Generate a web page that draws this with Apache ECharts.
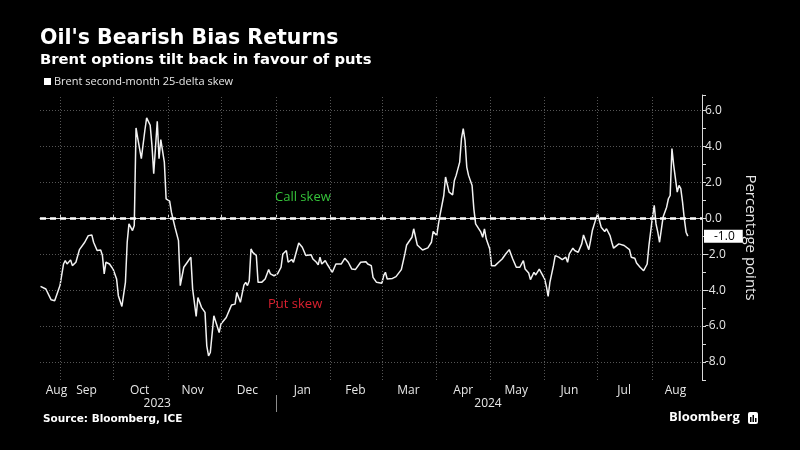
<!DOCTYPE html>
<html>
<head>
<meta charset="utf-8">
<script src="https://cdn.jsdelivr.net/npm/echarts@6/dist/echarts.min.js"></script>
<style>
    html, body { margin: 0; background: #000; }
    #chart { width: 800px; height: 450px; }
</style>
</head>
<body>
<div id="chart"></div>
<script>
// Brent second-month 25-delta skew, percentage points
const dates = [
    "2023-08-21", "2023-08-22", "2023-08-24", "2023-08-25", "2023-08-27", "2023-08-29", "2023-08-30",
    "2023-09-01", "2023-09-03", "2023-09-04", "2023-09-05", "2023-09-07", "2023-09-08", "2023-09-10",
    "2023-09-12", "2023-09-13", "2023-09-15", "2023-09-17", "2023-09-19", "2023-09-20", "2023-09-22",
    "2023-09-24", "2023-09-25", "2023-09-26", "2023-09-27", "2023-09-29",
    "2023-10-01", "2023-10-03", "2023-10-04", "2023-10-06", "2023-10-07", "2023-10-08", "2023-10-09",
    "2023-10-10", "2023-10-12", "2023-10-13", "2023-10-14", "2023-10-15", "2023-10-17", "2023-10-19",
    "2023-10-20", "2023-10-22", "2023-10-23", "2023-10-24", "2023-10-26", "2023-10-27", "2023-10-28",
    "2023-10-30", "2023-10-31",
    "2023-11-01", "2023-11-02", "2023-11-03", "2023-11-05", "2023-11-07", "2023-11-08", "2023-11-10",
    "2023-11-12", "2023-11-14", "2023-11-15", "2023-11-17", "2023-11-18", "2023-11-20", "2023-11-22",
    "2023-11-23", "2023-11-24", "2023-11-25", "2023-11-27", "2023-11-28", "2023-11-30",
    "2023-12-01", "2023-12-02", "2023-12-04", "2023-12-06", "2023-12-07", "2023-12-09", "2023-12-10",
    "2023-12-11", "2023-12-12", "2023-12-14", "2023-12-15", "2023-12-16", "2023-12-17", "2023-12-18",
    "2023-12-19", "2023-12-21", "2023-12-22", "2023-12-24", "2023-12-26", "2023-12-28", "2023-12-29",
    "2023-12-31",
    "2024-01-02", "2024-01-04", "2024-01-05", "2024-01-07", "2024-01-08", "2024-01-10", "2024-01-11",
    "2024-01-12", "2024-01-14", "2024-01-16", "2024-01-18", "2024-01-19", "2024-01-21", "2024-01-22",
    "2024-01-24", "2024-01-25", "2024-01-26", "2024-01-27", "2024-01-29", "2024-01-30", "2024-01-31",
    "2024-02-02", "2024-02-04", "2024-02-05", "2024-02-07", "2024-02-09", "2024-02-11", "2024-02-13",
    "2024-02-15", "2024-02-16", "2024-02-18", "2024-02-19", "2024-02-21", "2024-02-22", "2024-02-24",
    "2024-02-25", "2024-02-27", "2024-02-28",
    "2024-03-01", "2024-03-02", "2024-03-03", "2024-03-04", "2024-03-05", "2024-03-07", "2024-03-09",
    "2024-03-10", "2024-03-12", "2024-03-13", "2024-03-14", "2024-03-15", "2024-03-16", "2024-03-18",
    "2024-03-19", "2024-03-21", "2024-03-22", "2024-03-24", "2024-03-25", "2024-03-27", "2024-03-29",
    "2024-03-30",
    "2024-04-01", "2024-04-02", "2024-04-03", "2024-04-05", "2024-04-06", "2024-04-08", "2024-04-10",
    "2024-04-11", "2024-04-12", "2024-04-14", "2024-04-15", "2024-04-16", "2024-04-17", "2024-04-18",
    "2024-04-19", "2024-04-21", "2024-04-22", "2024-04-23", "2024-04-24", "2024-04-26", "2024-04-27",
    "2024-04-28", "2024-04-29",
    "2024-05-01", "2024-05-02", "2024-05-04", "2024-05-06", "2024-05-08", "2024-05-10", "2024-05-12",
    "2024-05-13", "2024-05-14", "2024-05-16", "2024-05-18", "2024-05-20", "2024-05-21", "2024-05-23",
    "2024-05-24", "2024-05-26", "2024-05-27", "2024-05-29", "2024-05-30",
    "2024-06-01", "2024-06-02", "2024-06-03", "2024-06-04", "2024-06-06", "2024-06-07", "2024-06-09",
    "2024-06-10", "2024-06-11", "2024-06-13", "2024-06-14", "2024-06-15", "2024-06-17", "2024-06-18",
    "2024-06-20", "2024-06-22", "2024-06-23", "2024-06-24", "2024-06-26", "2024-06-27", "2024-06-28",
    "2024-06-30",
    "2024-07-01", "2024-07-02", "2024-07-03", "2024-07-05", "2024-07-06", "2024-07-08", "2024-07-09",
    "2024-07-10", "2024-07-11", "2024-07-13", "2024-07-14", "2024-07-16", "2024-07-17", "2024-07-19",
    "2024-07-20", "2024-07-22", "2024-07-23", "2024-07-25", "2024-07-27", "2024-07-28", "2024-07-29",
    "2024-07-30",
    "2024-08-01", "2024-08-02", "2024-08-03", "2024-08-04", "2024-08-05", "2024-08-07", "2024-08-08",
    "2024-08-09", "2024-08-10", "2024-08-11", "2024-08-12", "2024-08-13", "2024-08-15", "2024-08-16",
    "2024-08-17", "2024-08-18", "2024-08-19", "2024-08-20", "2024-08-21"
];

const skew = [
    -3.79, -3.75, -3.94, -3.98, -4.54, -4.59, -4.50,
    -3.75, -2.55, -2.36, -2.55, -2.32, -2.64, -2.45,
    -1.75, -1.80, -1.34, -0.97, -0.93, -1.34, -1.80,
    -1.77, -2.08, -3.10, -2.45, -2.55,
    -2.83, -3.38, -4.31, -4.91, -4.87, -3.57, -1.34,
    -0.32, -0.69, -0.41, 5.02, 4.42, 3.31, 4.89,
    5.58, 5.17, 4.05, 2.47, 5.39, 3.31, 4.37,
    3.12, 1.08,
    1.04, 0.95, 0.33, -0.50, -1.25, -3.75, -2.73,
    -2.45, -2.17, -3.94, -5.46, -4.41, -4.96, -5.24,
    -7.10, -7.66, -7.47, -5.43, -5.52, -6.36,
    -5.89, -5.99, -5.52, -5.06, -4.83, -4.78, -4.13,
    -4.03, -4.68, -3.72, -3.57, -3.75, -3.48, -1.71,
    -1.90, -2.08, -3.57, -3.57, -3.38, -2.86, -3.10,
    -3.20,
    -3.10, -2.73, -1.99, -1.80, -2.45, -2.30, -2.45,
    -2.40, -1.38, -1.62, -2.08, -2.12, -2.04, -2.27,
    -2.45, -2.60, -2.17, -2.55, -2.36, -2.55, -2.45,
    -3.01, -2.55, -2.49, -2.55, -2.23, -2.45, -2.83,
    -2.86, -2.92, -2.45, -2.55, -2.42, -2.55, -2.64,
    -3.29, -3.57, -3.53,
    -3.62, -3.20, -3.01, -3.38, -3.48, -3.35, -3.25,
    -3.25, -2.86, -2.83, -1.99, -1.49, -1.52, -1.06,
    -0.59, -1.49, -1.52, -1.77, -1.75, -1.65, -1.34,
    -0.74,
    -0.97, -0.32, 0.24, 1.26, 2.29, 1.45, 1.30,
    2.10, 2.38, 3.12, 4.42, 4.98, 4.33, 2.84,
    2.38, 1.82, 0.52, -0.32, -0.37, -0.78, -1.06,
    -0.59, -1.15,
    -1.71, -2.64, -2.64, -2.45, -2.27, -1.99, -1.75,
    -1.75, -2.27, -2.73, -2.73, -2.36, -2.83, -3.05,
    -3.42, -3.01, -3.16, -2.83, -3.01,
    -3.38, -3.79, -4.35, -3.57, -2.64, -2.08, -2.17,
    -2.08, -2.30, -2.17, -2.45, -1.99, -1.67, -1.80,
    -1.90, -1.43, -0.93, -0.97, -1.75, -1.25, -0.69,
    -0.04,
    0.24, -0.13, -0.50, -0.74, -0.59, -0.97, -1.34,
    -1.67, -1.64, -1.43, -1.43, -1.52, -1.62, -1.75,
    -2.17, -2.23, -2.49, -2.73, -2.92, -3.01, -2.55,
    -1.52,
    0.06, 0.71, -0.32, -0.78, -1.34, 0.06, 0.15,
    0.61, 1.08, 1.26, 3.87, 2.94, 1.45, 1.82,
    1.64, 0.89, -0.04, -0.78, -1.00
];

// x-axis tick marks / labels
const monthStarts = ["2023-09-01", "2023-10-01", "2023-11-01", "2023-12-01", "2024-01-01", "2024-02-01",
    "2024-03-01", "2024-04-01", "2024-05-01", "2024-06-01", "2024-07-01", "2024-08-01"];
const monthLabelDates = ["2023-08-30", "2023-09-16", "2023-10-16", "2023-11-15", "2023-12-16", "2024-01-16",
    "2024-02-15", "2024-03-16", "2024-04-16", "2024-05-16", "2024-06-15", "2024-07-16", "2024-08-14"];
const monthNames = ["Aug", "Sep", "Oct", "Nov", "Dec", "Jan", "Feb", "Mar", "Apr", "May", "Jun", "Jul", "Aug"];
const yearLabelDates = ["2023-10-26", "2024-04-30"];
const yearNames = ["2023", "2024"];
const yearBreaks = ["2024-01-01"];

const seriesName = "Brent second-month 25-delta skew";

// local-midnight timestamp, x axis is a plain value axis of timestamps
function ts(s) {
    const [y, m, d] = s.split("-").map(Number);
    return new Date(y, m - 1, d).getTime();
}

const monthLookup = {};
monthLabelDates.forEach((d, i) => { monthLookup[ts(d)] = monthNames[i]; });
const yearLookup = {};
yearLabelDates.forEach((d, i) => { yearLookup[ts(d)] = yearNames[i]; });

const xMin = ts("2023-08-20") + 0.7 * 86400000;
const xMax = ts("2024-08-29");
const lastValue = skew[skew.length - 1];
const font = "Open Sans";
const headFont = "DejaVu Sans";
const gridColor = "#555";

const chart = echarts.init(document.getElementById("chart"));

chart.setOption({
    backgroundColor: "#000",
    animation: false,
    textStyle: { fontFamily: font },
    title: [
        {
            text: "Oil's Bearish Bias Returns",
            left: 40, top: 28, padding: 0,
            textStyle: { color: "#fff", fontSize: 20.5, fontWeight: "bold", fontFamily: headFont }
        },
        {
            text: "Brent options tilt back in favour of puts",
            left: 40, top: 53, padding: 0,
            textStyle: { color: "#fff", fontSize: 14.8, fontWeight: "bold", fontFamily: headFont }
        },
        {
            text: "Source: Bloomberg, ICE",
            left: 43, top: 414, padding: 0,
            textStyle: { color: "#fff", fontSize: 10.5, fontWeight: "bold", fontFamily: headFont }
        },
        {
            text: "Bloomberg",
            left: 669, top: 411, padding: 0,
            textStyle: { color: "#fff", fontSize: 13, fontWeight: "bold", fontFamily: font }
        }
    ],
    legend: {
        data: [seriesName],
        left: 44, top: 76, padding: 0,
        icon: "rect", itemWidth: 7, itemHeight: 7, itemGap: 4,
        textStyle: { color: "#e6e6e6", fontSize: 11, fontFamily: font, padding: [0, 0, 0, -2] }
    },
    grid: { left: 40, right: 98, top: 95, bottom: 70 },
    xAxis: [
        {
            type: "value",
            min: xMin,
            max: xMax,
            axisLine: { lineStyle: { color: "#d9d9d9", width: 1 } },
            axisTick: {
                show: true, inside: true, length: 4,
                customValues: monthStarts.map(ts),
                lineStyle: { color: "#d9d9d9" }
            },
            axisLabel: {
                customValues: monthLabelDates.map(ts),
                formatter: v => monthLookup[v] || "",
                color: "#e6e6e6", fontSize: 12, margin: 5, fontFamily: font
            },
            splitLine: { show: false }
        },
        {
            type: "value",
            position: "bottom",
            offset: 15,
            min: xMin,
            max: xMax,
            axisLine: { show: false },
            axisTick: {
                show: true, length: 17,
                customValues: yearBreaks.map(ts),
                lineStyle: { color: "#8c8c8c" }
            },
            axisLabel: {
                customValues: yearLabelDates.map(ts),
                formatter: v => yearLookup[v] || "",
                color: "#e6e6e6", fontSize: 12, margin: 3, fontFamily: font
            },
            splitLine: { show: false }
        }
    ],
    yAxis: {
        type: "value",
        position: "right",
        min: -9,
        max: 6.85,
        interval: 1,
        name: "Percentage points",
        nameLocation: "middle",
        nameRotate: -90,
        nameGap: 41,
        nameTextStyle: { color: "#e6e6e6", fontSize: 15, fontFamily: font },
        axisLine: { show: true, lineStyle: { color: "#d9d9d9" } },
        axisTick: { show: true, length: 4, lineStyle: { color: "#d9d9d9" } },
        axisLabel: {
            color: "#e6e6e6", fontSize: 12, margin: 3, fontFamily: font,
            formatter: v => (Number.isInteger(v) && v % 2 === 0) ? v.toFixed(1) : ""
        },
        // only even values get a grid line
        splitLine: { show: true, lineStyle: { color: ["transparent", gridColor], type: [1, 2] } }
    },
    graphic: [
        {
            type: "text", left: 275, top: 191, z: 10,
            style: { text: "Call skew", fill: "#35c23a", font: "13px " + font }
        },
        {
            type: "text", left: 268, top: 298, z: 10,
            style: { text: "Put skew", fill: "#d9202f", font: "13px " + font }
        },
        {
            type: "group", left: 748, top: 412,
            children: [
                { type: "rect", shape: { x: 0, y: 0, width: 10, height: 12, r: 2 }, style: { fill: "#fff" } },
                { type: "rect", shape: { x: 2, y: 5, width: 1.5, height: 5 }, style: { fill: "#000" } },
                { type: "rect", shape: { x: 4.5, y: 3, width: 1.5, height: 7 }, style: { fill: "#000" } },
                { type: "rect", shape: { x: 7, y: 6, width: 1.5, height: 4 }, style: { fill: "#000" } }
            ]
        }
    ],
    series: [
        {
            // vertical month grid lines, drawn under the data line
            type: "line",
            xAxisIndex: 0,
            data: [],
            silent: true,
            markLine: {
                silent: true,
                symbol: ["none", "none"],
                label: { show: false },
                lineStyle: { color: gridColor, width: 1, type: [1, 2] },
                data: monthStarts.map(d => ({ xAxis: ts(d) }))
            }
        },
        {
            name: seriesName,
            type: "line",
            xAxisIndex: 0,
            data: dates.map((d, i) => [ts(d), skew[i]]),
            showSymbol: false,
            itemStyle: { color: "#fff" },
            lineStyle: { color: "#f2f2f2", width: 1.5 },
            markLine: {
                silent: true,
                symbol: ["none", "none"],
                data: [
                    {
                        yAxis: 0,
                        lineStyle: { color: "#fff", width: 2.5, type: [6, 4] },
                        label: { show: false }
                    },
                    {
                        yAxis: lastValue,
                        lineStyle: { color: "rgba(0,0,0,0)", width: 0 },
                        label: {
                            show: true, position: "end", distance: 2,
                            formatter: () => lastValue.toFixed(1),
                            backgroundColor: "#fff", color: "#000",
                            fontSize: 12, fontFamily: font, padding: [1, 8, 0, 10]
                        }
                    }
                ]
            }
        }
    ]
});
</script>
</body>
</html>
